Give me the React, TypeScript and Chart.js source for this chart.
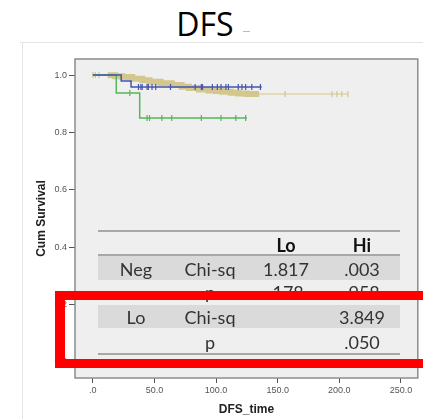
import React, { useEffect, useRef } from 'react';
import { Chart, registerables } from 'chart.js';

Chart.register(...registerables);

// ---- chart text ----
const titleText = 'DFS';
const xTitle = 'DFS_time';
const yTitle = 'Cum Survival';
const xTickValues = [0, 50, 100, 150, 200, 250];
const yTickValues = [0, 0.2, 0.4, 0.6, 0.8, 1.0];

// ---- survival curves (time, cumulative survival) ----
const tanHeadTimes = [0, 12];
const tanHeadSurv = [1, 0.999];
const tanTimes = [12, 18, 24, 32, 40, 46, 55, 64, 72, 78, 86, 94, 100, 105, 112, 118, 125, 135];
const tanSurv = [0.999, 0.996, 0.993, 0.987, 0.982, 0.977, 0.971, 0.965, 0.959, 0.955, 0.95, 0.946, 0.944, 0.942, 0.938, 0.936, 0.934, 0.934];
const tanTailTimes = [135, 207];
const tanTailSurv = [0.934, 0.934];
const tanCensorTimes = [0, 2, 5, 156, 194, 198, 202, 207];

const blueTimes = [0, 23, 31, 137];
const blueSurv = [1, 0.979, 0.958, 0.958];
const blueCensorTimes = [37, 39, 40, 44, 45, 48, 51, 63, 83, 88, 89, 97, 101, 104, 108, 110, 118, 121, 124, 129, 136];

const greenTimes = [0, 19, 38, 125];
const greenSurv = [1, 0.937, 0.85, 0.85];
const greenCensorTimes = [30, 44, 46, 56, 64, 88, 104, 116, 124];

// ---- overlaid table ----
const tableHeader = ['', '', 'Lo', 'Hi'];
const tableGroups = ['Neg', 'Lo'];
const tableStats = ['Chi-sq', 'p'];
const negLoValues = ['1.817', '.178'];
const negHiValues = ['.003', '.958'];
const loLoValues = ['', ''];
const loHiValues = ['3.849', '.050'];

const TAN = '#d3c78d';
const TAN_LIGHT = '#ddd4a8';
const BLUE = '#4455b0';
const GREEN = '#55b55a';

function pts(times: number[], surv: number[]) {
  return times.map((t, i) => ({ x: t, y: surv[i] }));
}
function survAt(times: number[], surv: number[], t: number) {
  let v = surv[0];
  for (let i = 0; i < times.length; i++) if (times[i] <= t) v = surv[i];
  return v;
}
function censorPts(ct: number[], times: number[], surv: number[]) {
  return ct.map((t) => ({ x: t, y: survAt(times, surv, t) }));
}

const tanAllTimes = tanHeadTimes.concat(tanTimes, tanTailTimes);
const tanAllSurv = tanHeadSurv.concat(tanSurv, tanTailSurv);

const framePlugin = {
  id: 'frame',
  beforeDraw(chart: any) {
    const { ctx, chartArea } = chart;
    const { left, top, right, bottom } = chartArea;
    ctx.save();
    ctx.fillStyle = '#efefef';
    ctx.fillRect(left, top, right - left, bottom - top);
    ctx.restore();
  },
  afterDraw(chart: any) {
    const { ctx, chartArea } = chart;
    const { left, top, right, bottom } = chartArea;
    ctx.save();
    ctx.strokeStyle = '#8c8c8c';
    ctx.lineWidth = 1.5;
    ctx.strokeRect(left, top, right - left, bottom - top);
    ctx.restore();
  },
};

function Cell({ x, y, text, bold }: { x: number; y: number; text: string; bold?: boolean }) {
  return (
    <div
      style={{
        position: 'absolute',
        left: x - 45,
        top: y - 10,
        width: 90,
        height: 20,
        lineHeight: '20px',
        textAlign: 'center',
        fontFamily: 'Lato, "Open Sans", sans-serif',
        fontSize: 18,
        fontWeight: bold ? 700 : 400,
        color: bold ? '#111' : '#333',
        whiteSpace: 'nowrap',
      }}
    >
      {text}
    </div>
  );
}

export default function App() {
  const canvasRef = useRef<HTMLCanvasElement | null>(null);

  useEffect(() => {
    const canvas = canvasRef.current;
    if (!canvas) return;
    const censorStyle = {
      showLine: false,
      pointStyle: 'line' as const,
      rotation: 90,
      pointRadius: 3,
      pointBorderWidth: 1.2,
    };
    const chart = new Chart(canvas, {
      type: 'line',
      data: {
        datasets: [
          { label: 'blue-c', data: censorPts(blueCensorTimes, blueTimes, blueSurv), borderColor: BLUE, backgroundColor: BLUE, ...censorStyle },
          { label: 'blue', data: pts(blueTimes, blueSurv), borderColor: BLUE, borderWidth: 1.5, stepped: 'before', pointRadius: 0, fill: false },
          { label: 'green-c', data: censorPts(greenCensorTimes, greenTimes, greenSurv), borderColor: GREEN, backgroundColor: GREEN, ...censorStyle },
          { label: 'green', data: pts(greenTimes, greenSurv), borderColor: GREEN, borderWidth: 1.5, stepped: 'before', pointRadius: 0, fill: false },
          { label: 'tan-c', data: censorPts(tanCensorTimes, tanAllTimes, tanAllSurv), borderColor: TAN, backgroundColor: TAN, ...censorStyle },
          { label: 'tan-head', data: pts(tanHeadTimes, tanHeadSurv), borderColor: TAN, borderWidth: 2, stepped: 'before', pointRadius: 0, fill: false },
          { label: 'tan-tail', data: pts(tanTailTimes, tanTailSurv), borderColor: TAN_LIGHT, borderWidth: 1.5, stepped: 'before', pointRadius: 0, fill: false },
          { label: 'tan', data: pts(tanTimes, tanSurv), borderColor: TAN, borderWidth: 6, stepped: 'before', pointRadius: 0, fill: false },
        ],
      },
      options: {
        animation: false,
        responsive: false,
        layout: { padding: { left: 0, right: 3, top: 59, bottom: 0 } },
        plugins: { legend: { display: false }, tooltip: { enabled: false }, title: { display: false } },
        scales: {
          x: {
            type: 'linear',
            position: 'bottom',
            min: -14.5,
            max: 263.7,
            afterFit: (s: any) => { s.height = 41; },
            afterBuildTicks: (s: any) => { s.ticks = xTickValues.map((v) => ({ value: v })); },
            ticks: {
              color: '#555',
              font: { family: '"Liberation Sans", Arial, sans-serif', size: 9 },
              padding: 2,
              maxRotation: 0,
              autoSkip: false,
              callback: (v: any) => (Number(v) === 0 ? '.0' : Number(v).toFixed(1)),
            },
            grid: { display: true, drawOnChartArea: false, drawTicks: true, tickLength: 5, color: '#555', lineWidth: 1 },
            border: { display: false },
            title: {
              display: true,
              text: xTitle,
              color: '#222',
              font: { family: '"Liberation Sans", Arial, sans-serif', size: 12, weight: 'bold' },
              padding: { top: 0, bottom: 1.8 },
            },
          },
          y: {
            type: 'linear',
            position: 'left',
            min: -0.057,
            max: 1.056,
            afterFit: (s: any) => { s.width = 75; },
            afterBuildTicks: (s: any) => { s.ticks = yTickValues.map((v) => ({ value: v })); },
            ticks: {
              color: '#555',
              font: { family: '"Liberation Sans", Arial, sans-serif', size: 9 },
              padding: 2,
              autoSkip: false,
              callback: (v: any) => Number(v).toFixed(1),
            },
            grid: { display: true, drawOnChartArea: false, drawTicks: true, tickLength: 6, color: '#555', lineWidth: 1 },
            border: { display: false },
            title: {
              display: true,
              text: yTitle,
              color: '#222',
              font: { family: '"Liberation Sans", Arial, sans-serif', size: 12, weight: 'bold' },
              padding: { top: 34.8, bottom: 0 },
            },
          },
        },
      },
      plugins: [framePlugin],
    } as any);
    return () => chart.destroy();
  }, []);

  const colX = [136, 210, 286, 362];
  const rowY = [245, 269, 292, 317, 342];
  const lineColor = '#a8a8a8';

  const rows: { y: number; cells: string[] }[] = [];
  tableGroups.forEach((g, gi) => {
    const loVals = gi === 0 ? negLoValues : loLoValues;
    const hiVals = gi === 0 ? negHiValues : loHiValues;
    tableStats.forEach((s, si) => {
      rows.push({
        y: rowY[1 + gi * 2 + si],
        cells: [si === 0 ? g : '', s, loVals[si], hiVals[si]],
      });
    });
  });

  return (
    <div style={{ position: 'fixed', left: 0, top: 0, width: 423, height: 419, overflow: 'hidden', background: '#fff' }}>
      {/* faint outer frame */}
      <div style={{ position: 'absolute', left: 20, top: 42, width: 410, height: 1, background: '#e4e4e4' }} />
      <div style={{ position: 'absolute', left: 22, top: 42, width: 1, height: 380, background: '#e4e4e4' }} />
      {/* title */}
      <div
        style={{
          position: 'absolute', left: 150, top: 8, width: 110, height: 32, lineHeight: '32px',
          textAlign: 'center', fontFamily: '"Open Sans", sans-serif', fontSize: 32, color: '#000',
        }}
      >
        {titleText}
      </div>
      <div style={{ position: 'absolute', left: 243, top: 31, width: 7, height: 1, background: '#bbb' }} />
      <canvas ref={canvasRef} width={423} height={419} style={{ position: 'absolute', left: 0, top: 0, width: 423, height: 419 }} />
      {/* overlaid table */}
      <div style={{ position: 'absolute', left: 98, top: 230, width: 302, height: 2, background: lineColor }} />
      <div style={{ position: 'absolute', left: 98, top: 254, width: 302, height: 2, background: lineColor }} />
      <div style={{ position: 'absolute', left: 98, top: 256, width: 302, height: 24, background: '#dadada' }} />
      <div style={{ position: 'absolute', left: 98, top: 305, width: 302, height: 23, background: '#dadada' }} />
      <div style={{ position: 'absolute', left: 98, top: 353, width: 302, height: 2, background: lineColor }} />
      {tableHeader.map((h, i) => (h ? <Cell key={'h' + i} x={colX[i]} y={rowY[0]} text={h} bold /> : null))}
      {rows.map((r, ri) =>
        r.cells.map((c, ci) => (c ? <Cell key={ri + '-' + ci} x={colX[ci]} y={r.y} text={c} /> : null))
      )}
      {/* red highlight box */}
      <div
        style={{
          position: 'absolute', left: 55, top: 291, width: 390, height: 77,
          border: '9px solid #ff0000', borderLeftWidth: 10, boxSizing: 'border-box',
        }}
      />
    </div>
  );
}
